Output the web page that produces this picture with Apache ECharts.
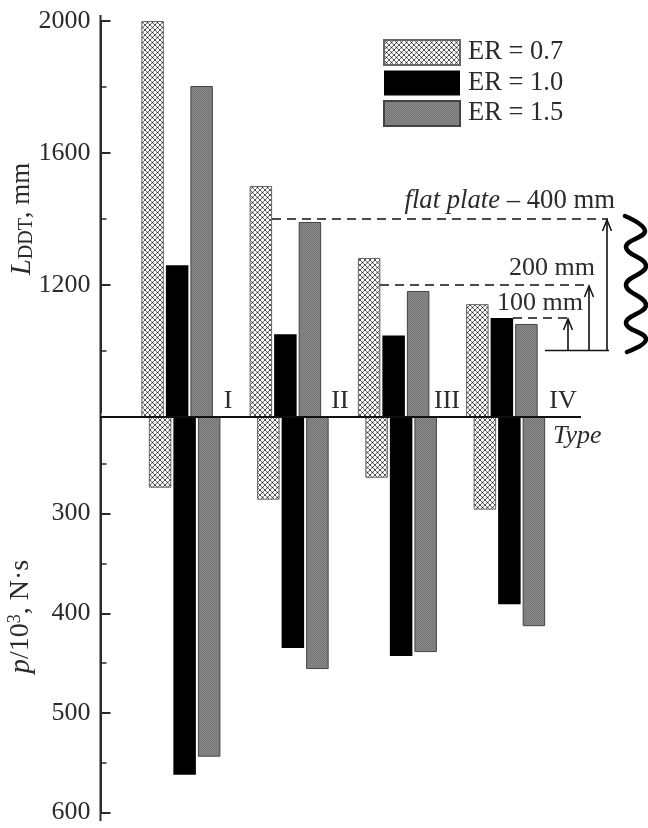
<!DOCTYPE html>
<html><head><meta charset="utf-8">
<style>html,body{margin:0;padding:0;background:#fff}#c{width:648px;height:828px}</style>
<script src="https://cdn.jsdelivr.net/npm/echarts@6/dist/echarts.min.js"></script>
</head><body><div id="c"></div>
<script>
const types = ['I','II','III','IV'];
const seriesNames = ['ER = 0.7','ER = 1.0','ER = 1.5'];
const lddt07 = [2000,1500,1282,1142];
const lddt10 = [1260,1051,1047,1100];
const lddt15 = [1803,1391,1182,1082];
const imp07 = [274,286,264,296];
const imp10 = [562,435,443,391];
const imp15 = [544,456,439,413];
const flatLevels = [1400,1200,1100];
const flatBase = 1000;
const levelLabels = ['400 mm','200 mm','100 mm'];

const FONT = '"Liberation Serif","Times New Roman",serif';
const INK = '#2b2b2b';
const FS = 26;

function hatch(){
  const c=document.createElement('canvas');c.width=5;c.height=5;
  const g=c.getContext('2d');
  g.fillStyle='#fff';g.fillRect(0,0,5,5);
  g.strokeStyle='#6a6a6a';g.lineWidth=0.9;
  [[-5,0],[0,0],[5,0]].forEach(o=>{
    g.beginPath();g.moveTo(o[0],0);g.lineTo(o[0]+5,5);g.stroke();
    g.beginPath();g.moveTo(o[0]+5,0);g.lineTo(o[0],5);g.stroke();
  });
  g.fillStyle='#222';
  [[0,0],[5,0],[0,5],[5,5],[2.5,2.5]].forEach(p=>{g.beginPath();g.arc(p[0],p[1],0.8,0,7);g.fill();});
  return c;
}
function fine(){
  const c=document.createElement('canvas');c.width=2;c.height=2;
  const g=c.getContext('2d');
  g.fillStyle='#8a8a8a';g.fillRect(0,0,2,2);
  g.fillStyle='#747474';g.fillRect(0,0,1,1);g.fillRect(1,1,1,1);
  return c;
}
const hatchFill={image:hatch(),repeat:'repeat'};
const grayFill={image:fine(),repeat:'repeat'};
const styles=[
  {color:hatchFill,borderColor:'#666',borderWidth:1},
  {color:'#000',borderColor:'#000',borderWidth:0},
  {color:grayFill,borderColor:'#444',borderWidth:1}
];
const upper=[lddt07,lddt10,lddt15], lower=[imp07,imp10,imp15];

const chart=echarts.init(document.getElementById('c'),null,{renderer:'canvas'});
const labelFont={fontFamily:FONT,fontSize:FS,color:INK};
const series=[];
upper.forEach((d,i)=>series.push({name:seriesNames[i],type:'bar',xAxisIndex:0,yAxisIndex:0,data:d,
  barWidth:22.5,barGap:'9%',itemStyle:styles[i],z:5,silent:true}));
lower.forEach((d,i)=>series.push({name:seriesNames[i],type:'bar',xAxisIndex:1,yAxisIndex:1,data:d,
  barWidth:22.5,barGap:'9%',itemStyle:styles[i],z:2,silent:true}));

const tickBase={show:true,inside:true,length:10,lineStyle:{color:INK,width:2}};
const minorBase={show:true,splitNumber:2,length:6,lineStyle:{color:INK,width:1.5}};

chart.setOption({
  animation:false,
  backgroundColor:'#fff',
  legend:{data:seriesNames,orient:'vertical',left:383,top:39,padding:0,icon:'rect',itemWidth:76,itemHeight:25,itemGap:3.5,
    selectedMode:false,textStyle:{fontFamily:FONT,fontSize:26.5,color:INK,padding:[1,0,0,3]}},
  grid:[
    {left:123,top:21,width:433,height:396,outerBoundsMode:'none',containLabel:false},
    {left:130.5,top:414,width:433,height:398.5,outerBoundsMode:'none',containLabel:false}
  ],
  xAxis:[
    {gridIndex:0,type:'category',data:types,axisLine:{show:false},axisTick:{show:false},axisLabel:{show:false}},
    {gridIndex:1,type:'category',data:types,position:'top',axisLine:{show:false},axisTick:{show:false},axisLabel:{show:false}}
  ],
  yAxis:[
    {gridIndex:0,type:'value',min:800,max:2000,interval:400,offset:22.5,
      axisLine:{show:true,onZero:false,lineStyle:{color:INK,width:2}},axisTick:tickBase,minorTick:minorBase,splitLine:{show:false},minorSplitLine:{show:false},
      axisLabel:Object.assign({margin:10,formatter:v=>v===800?'':String(v)},labelFont),
      name:'{i|L}{s|DDT}{n|, mm}',nameLocation:'middle',nameGap:64,nameRotate:90,nameMoveOverlap:false,
      nameTextStyle:{rich:{
        i:{fontFamily:FONT,fontSize:29,fontStyle:'italic',color:INK},
        s:{fontFamily:FONT,fontSize:20,color:INK,verticalAlign:'bottom',padding:[8,0,0,0]},
        n:{fontFamily:FONT,fontSize:27,color:INK}}}},
    {gridIndex:1,type:'value',inverse:true,min:200,max:600,interval:100,offset:30,
      axisLine:{show:true,onZero:false,lineStyle:{color:INK,width:2}},axisTick:tickBase,minorTick:minorBase,splitLine:{show:false},minorSplitLine:{show:false},
      axisLabel:Object.assign({margin:10,formatter:v=>v===200?'':String(v)},labelFont),
      name:'{i|p}{n|/10}{u|3}{e|, N·s}',nameLocation:'middle',nameGap:65,nameRotate:90,nameMoveOverlap:false,
      nameTextStyle:{rich:{
        i:{fontFamily:FONT,fontSize:29,fontStyle:'italic',color:INK},
        u:{fontFamily:FONT,fontSize:18,color:INK,verticalAlign:'top',padding:[0,0,8,0]},
        n:{fontFamily:FONT,fontSize:28,color:INK},
        e:{fontFamily:FONT,fontSize:28,color:INK,padding:[0,7,0,0]}}}}
  ],
  series
});

function yU(v){return chart.convertToPixel({yAxisIndex:0},v);}
const INKB='#111';
const dash={stroke:INKB,lineWidth:1.6,lineDash:[9,6]};
const solid={stroke:INKB,lineWidth:1.6};
function seg(x1,y1,x2,y2,style,z){return {type:'line',shape:{x1,y1,x2,y2},style,z:z||20,silent:true};}
function arrow(x,top,base){
  return [seg(x,base,x,top,solid),
    {type:'polyline',shape:{points:[[x-4.5,top+11],[x,top],[x+4.5,top+11]]},style:{stroke:INKB,lineWidth:1.5,fill:null},z:20,silent:true}];
}
function txt(x,y,rich,align){
  return {type:'text',x,y,z:21,silent:true,style:{text:rich,align:align||'left',verticalAlign:'middle',
    font:FS+'px '+FONT,fill:INK,rich:{i:{fontFamily:FONT,fontSize:26.7,fontStyle:'italic',fill:INK},t:{fontFamily:FONT,fontSize:26,fontStyle:'italic',fill:INK},n:{fontFamily:FONT,fontSize:26.7,fill:INK}}}};
}
const base=yU(flatBase);
const dashStart=[272,380,513], dashEnd=[608,590,573], arrowX=[607,589,568];
const typeX=[228,340,447,563];
const wavePts=[[625,216],[645,231],[626,247],[646,266],[626,285],[646,305],[626,323],[646,339],[627,352]];
const g=[
  {type:'rect',shape:{x:101,y:413,width:520,height:3.5},style:{fill:'#fff'},z:3,silent:true},
  seg(100.5,15,100.5,821,{stroke:INK,lineWidth:2},20),
  seg(100,417,581,417,{stroke:'#111',lineWidth:2},20),
  seg(545,350.5,609,350.5,{stroke:INKB,lineWidth:1.6})
];
flatLevels.forEach((v,i)=>{
  const y=yU(v);
  g.push(seg(dashStart[i],y,dashEnd[i],y,dash));
  g.push(...arrow(arrowX[i],y+1,base));
});
types.forEach((t,i)=>g.push(txt(typeX[i],401,t,'center')));
g.push(txt(553,436,'{t|Type}'));
g.push(txt(615,201,'{i|flat plate}{n| – '+levelLabels[0]+'}','right'));
g.push(txt(595,268,levelLabels[1],'right'));
g.push(txt(583,303,levelLabels[2],'right'));
g.push({type:'polyline',shape:{points:wavePts,smooth:0.45},style:{stroke:'#000',lineWidth:4.5,fill:null,lineCap:'round'},z:20,silent:true});
chart.setOption({graphic:{elements:g}});
</script></body></html>
